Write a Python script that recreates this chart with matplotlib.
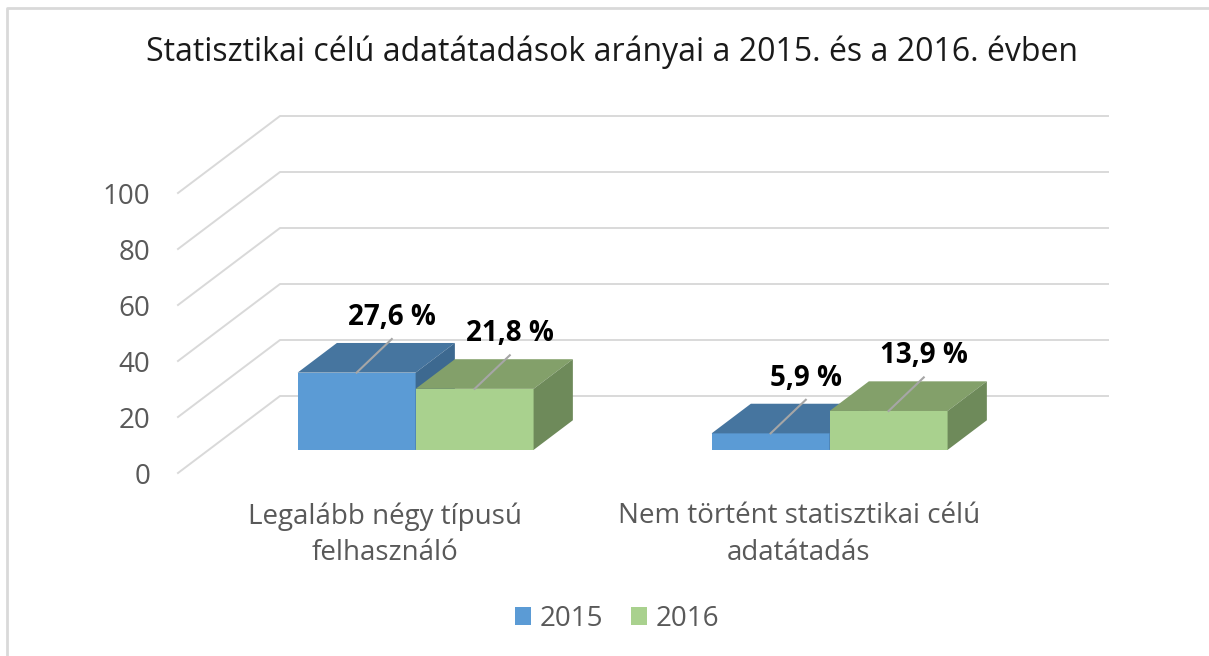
import matplotlib.pyplot as plt
from matplotlib.patches import Polygon, Patch
from matplotlib.lines import Line2D

plt.rcParams['font.family'] = ['Open Sans', 'DejaVu Sans']

# adatok
categories = ['Legalább négy típusú\nfelhasználó', 'Nem történt statisztikai célú\nadatátadás']
years = ['2015', '2016']
values_2015 = [27.6, 5.9]
values_2016 = [21.8, 13.9]
labels_2015 = ['27,6 %', '5,9 %']
labels_2016 = ['21,8 %', '13,9 %']
yticks = [0, 20, 40, 60, 80, 100]

# színek (elülső, felső, oldalsó lap)
colors = {
    '2015': ('#5B9BD5', '#46759F', '#3D6990'),
    '2016': ('#A9D18E', '#83A06A', '#6E8A5A'),
}

# "3D" vetítés paraméterei
DX = 0.2464      # mélység x irányban (kategória egység)
DY = 27.5        # mélység y irányban (érték egység)
D0 = 0.30        # oszlopok eleje
DD = 0.385       # oszlopok mélysége
BAR_W = 0.285
GRID_C = '#D9D9D9'
TXT_C = '#595959'
FS = 20

W, H = 1209, 656
fig = plt.figure(figsize=(W / 100, H / 100), dpi=100)
ax = fig.add_axes([178 / W, (H - 473) / H, 930 / W, 357 / H])
ax.set_xlim(0, 2 + DX)
ax.set_ylim(0, 100 + DY)
ax.patch.set_visible(False)
for s in ax.spines.values():
    s.set_visible(False)
ax.set_xticks([])
ax.set_yticks(yticks)
ax.set_yticklabels([str(v) for v in yticks], fontsize=FS, color=TXT_C)
ax.tick_params(axis='y', length=0, pad=20)

# rácsvonalak: padló átló + hátsó fal
for v in yticks:
    ax.plot([0, DX, 2 + DX], [v, v + DY, v + DY], color=GRID_C, lw=1.4,
            zorder=1, clip_on=False)


def draw_bar(xl, val, col):
    front, top, side = col
    y0 = D0 * DY
    xl = xl + D0 * DX
    xr = xl + BAR_W
    ax.bar(xl, val, bottom=y0, width=BAR_W, align='edge', color=front,
           linewidth=0, zorder=3)
    yt = y0 + val
    ax.add_patch(Polygon([(xl, yt), (xr, yt), (xr + DD * DX, yt + DD * DY),
                          (xl + DD * DX, yt + DD * DY)], closed=True,
                         facecolor=top, lw=0, zorder=3))
    ax.add_patch(Polygon([(xr, y0), (xr, yt), (xr + DD * DX, yt + DD * DY),
                          (xr + DD * DX, y0 + DD * DY)], closed=True,
                         facecolor=side, lw=0, zorder=3))
    return (xl + xr) / 2, yt


for i, cat in enumerate(categories):
    c = i + 0.5
    pairs = [(values_2015[i], labels_2015[i], colors['2015'], c - BAR_W),
             (values_2016[i], labels_2016[i], colors['2016'], c)]
    for val, lab, col, xl in pairs:
        xc, yt = draw_bar(xl, val, col)
        ex, ey = xc + 0.085, yt + 12
        ax.plot([xc, ex], [yt, ey], color='#A6A6A6', lw=1.5, zorder=4)
        ax.text(ex, ey + 2.5, lab, ha='center', va='bottom', fontsize=FS,
                fontweight='bold', color='black', zorder=5)
    ax.text(c, -10.5, cat, ha='center', va='top', fontsize=FS, color=TXT_C,
            linespacing=1.4)

fig.text(612 / W, 1 - 52 / H,
         'Statisztikai célú adatátadások arányai a 2015. és a 2016. évben',
         ha='center', va='center', fontsize=23, color='#1A1A1A')

handles = [Patch(facecolor=colors[y][0], label=y) for y in years]
fig.legend(handles=handles, loc='center', bbox_to_anchor=(617 / W, 1 - 619 / H),
           ncol=2, frameon=False, fontsize=FS, labelcolor=TXT_C,
           handlelength=0.6, handleheight=0.6, handletextpad=0.3,
           columnspacing=1.0)

# keret
fig.add_artist(Line2D([7 / W, 7 / W, 1], [0, 1 - 8 / H, 1 - 8 / H],
                      transform=fig.transFigure, color='#D9D9D9', lw=2))

fig.savefig('out.png', dpi=100)
